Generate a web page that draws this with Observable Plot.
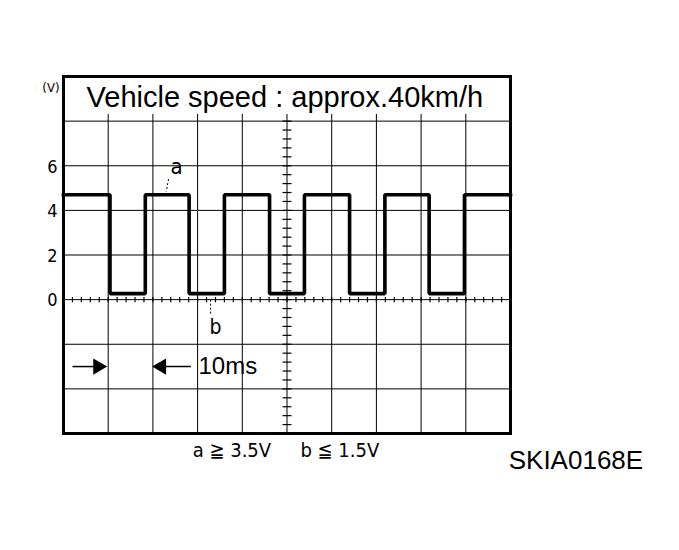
<!DOCTYPE html>
<html>
<head>
<meta charset="utf-8">
<script src="https://cdn.jsdelivr.net/npm/d3@7"></script>
<script src="https://cdn.jsdelivr.net/npm/@observablehq/plot@0.6"></script>
<style>
  html, body { margin: 0; padding: 0; background: #fff; }
  svg { display: block; }
</style>
</head>
<body>
<div id="chart"></div>
<script>
// ---- data ----
const title = "Vehicle speed : approx.40km/h";
const unitLabel = "(V)";
const yTickLabels = [0, 2, 4, 6];
const gridTimes = [10, 20, 30, 40, 50, 60, 70, 80, 90];      // ms, vertical grid
const gridVolts = [-4, -2, 0, 2, 4, 6, 8];                    // V, horizontal grid
const edgeTimes = [10.4, 18.3, 28.1, 36.0, 46.1, 53.9, 64.0, 71.9, 81.8, 89.7]; // ms, falling/rising
const highLevel = 4.7;   // V  (a)
const lowLevel = 0.27;   // V  (b)
const tStart = 0, tEnd = 100;
const spanLabel = "10ms";
const condA = "a ≧ 3.5V";
const condB = "b ≦ 1.5V";
const figId = "SKIA0168E";

// ---- build waveform from edges ----
const wave = [{t: tStart, v: highLevel}];
let level = highLevel;
for (const e of edgeTimes) {
  wave.push({t: e, v: level});
  level = level === highLevel ? lowLevel : highLevel;
  wave.push({t: e, v: level});
}
wave.push({t: tEnd, v: level});

const centerTicks = d3.range(-6, 8.31, 0.4);
const zeroTicks = d3.range(0, 100.01, 2);

const narrow = "'Liberation Sans Narrow', 'DejaVu Sans Condensed', 'Liberation Sans', sans-serif";
const sans = "'Liberation Sans', Arial, sans-serif";

const chart = Plot.plot({
  width: 679,
  height: 550,
  marginLeft: 63,
  marginRight: 169,
  marginTop: 76,
  marginBottom: 117,
  style: {background: "#fff", color: "#000", overflow: "visible"},
  x: {domain: [tStart, tEnd], axis: null},
  y: {domain: [-6, 10], axis: null},
  marks: [
    // grid
    Plot.ruleX(gridTimes, {x: d => d, y1: -6, y2: 8.3, stroke: "#000", strokeWidth: 1}),
    Plot.ruleY(gridVolts, {y: d => d, stroke: "#000", strokeWidth: 1}),
    // minor ticks on center vertical axis
    Plot.link(centerTicks, {x1: 49, x2: 51, y1: d => d, y2: d => d, stroke: "#000", strokeWidth: 1.2}),
    // minor ticks on 0 V line
    Plot.link(zeroTicks, {x1: d => d, x2: d => d, y1: -0.12, y2: 0.12, stroke: "#000", strokeWidth: 1.2}),
    // frame
    Plot.frame({stroke: "#000", strokeWidth: 3}),
    // waveform
    Plot.line(wave, {x: "t", y: "v", stroke: "#000", strokeWidth: 3.6, strokeLinejoin: "miter", strokeLinecap: "square"}),
    // title
    Plot.text([title], {x: 5.15, y: 9.05, text: d => d, textAnchor: "start", fontSize: 29, fontFamily: sans, fill: "#000"}),
    // unit
    Plot.text([unitLabel], {x: 0, y: 9.5, text: d => d, textAnchor: "end", dx: -4, fontSize: 13, fontFamily: narrow, fill: "#000"}),
    // y tick labels
    Plot.text(yTickLabels, {x: 0, y: d => d, text: d => String(d), textAnchor: "end", dx: -6, dy: 1, fontSize: 18, fontFamily: narrow, fill: "#000"}),
    // annotation a
    Plot.text(["a"], {x: 25.3, y: 5.95, text: d => d, fontSize: 22, fontFamily: narrow, fill: "#000"}),
    Plot.link([0], {x1: 23.5, y1: 5.4, x2: 23.0, y2: 4.85, stroke: "#000", strokeWidth: 1, strokeDasharray: "2,2"}),
    // annotation b
    Plot.text(["b"], {x: 34.0, y: -1.25, text: d => d, fontSize: 21, fontFamily: narrow, fill: "#000"}),
    Plot.link([0], {x1: 32.9, y1: 0.0, x2: 32.9, y2: -0.65, stroke: "#000", strokeWidth: 1, strokeDasharray: "2,2"}),
    // 10 ms span arrows
    Plot.link([0], {x1: 2.0, y1: -3, x2: 8.5, y2: -3, stroke: "#000", strokeWidth: 1.5}),
    Plot.link([0], {x1: 21.0, y1: -3, x2: 28.5, y2: -3, stroke: "#000", strokeWidth: 1.5}),
    Plot.dot([0], {x: 7.7, y: -3, symbol: "triangle", rotate: 90, r: 6, fill: "#000", stroke: "none"}),
    Plot.dot([0], {x: 21.9, y: -3, symbol: "triangle", rotate: -90, r: 6, fill: "#000", stroke: "none"}),
    Plot.text([spanLabel], {x: 30.2, y: -3, text: d => d, textAnchor: "start", fontSize: 24, fontFamily: sans, fill: "#000"}),
    // conditions below
    Plot.text([condA], {x: 28.9, y: -6.75, text: d => d, textAnchor: "start", fontSize: 20, fontFamily: narrow, fill: "#000"}),
    Plot.text([condB], {x: 53.0, y: -6.75, text: d => d, textAnchor: "start", fontSize: 20, fontFamily: narrow, fill: "#000"}),
    // figure id
    Plot.text([figId], {x: 99.6, y: -7.2, text: d => d, textAnchor: "start", fontSize: 26, fontFamily: sans, fill: "#000"})
  ]
});
document.getElementById("chart").appendChild(chart);
</script>
</body>
</html>
